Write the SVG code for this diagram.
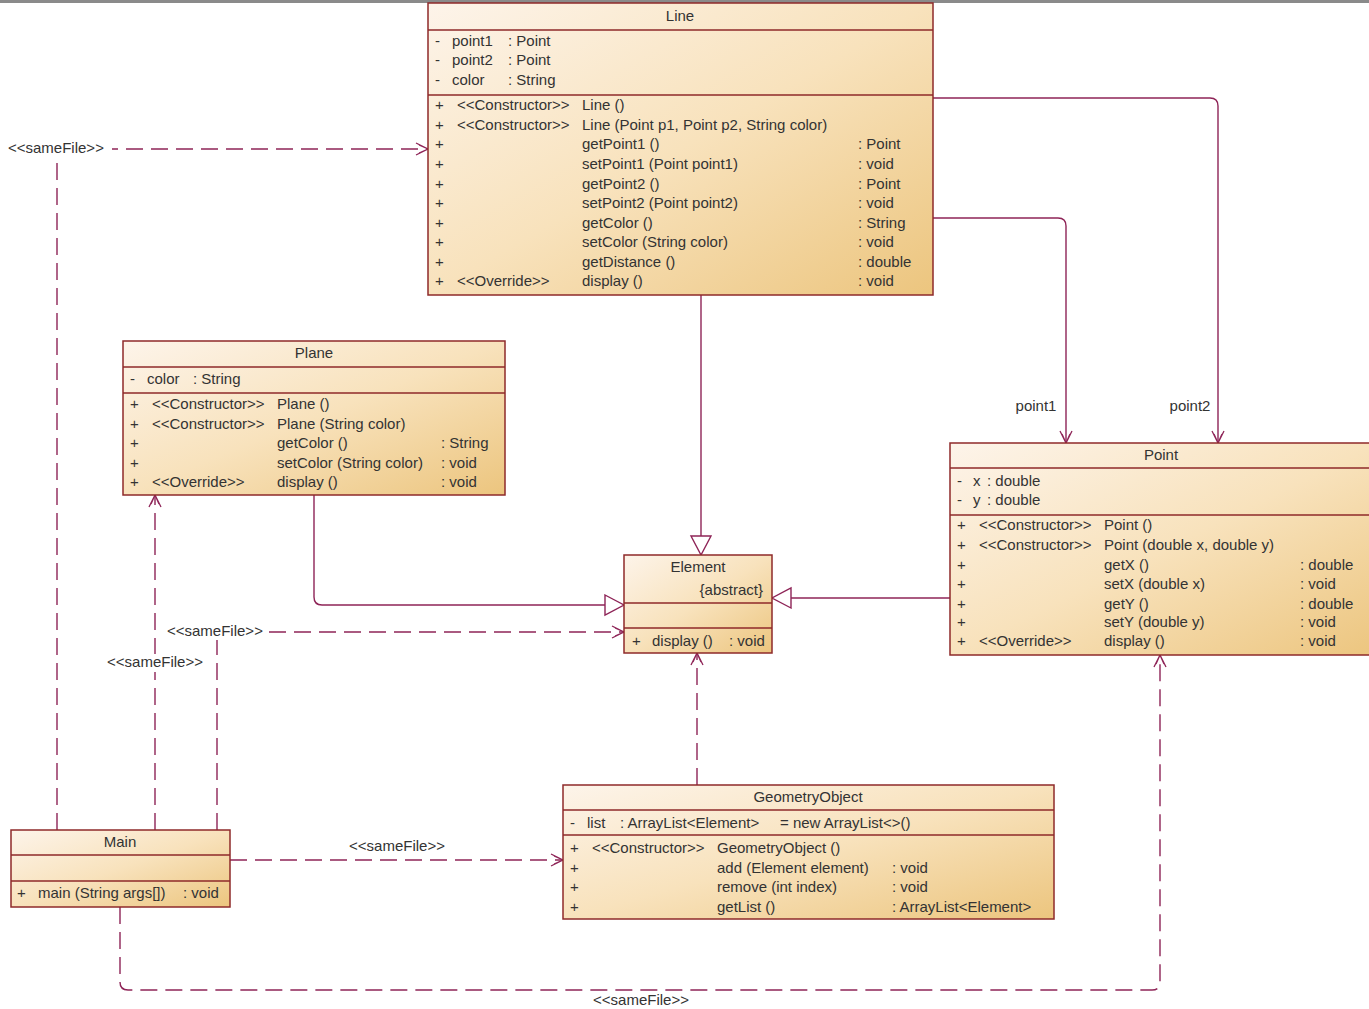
<svg xmlns="http://www.w3.org/2000/svg" width="1369" height="1009" viewBox="0 0 1369 1009">
<style>
  text { font-family: "Liberation Sans", Arial, sans-serif; font-size: 15px; fill: #333; }
  .c { text-anchor: middle; }
  .e { text-anchor: end; }
  .box { fill: url(#g); stroke: #8e2a2a; stroke-width: 1.5; }
  .sep { stroke: #8e2a2a; stroke-width: 1.3; fill: none; }
  .con { stroke: #8e2457; stroke-width: 1.4; fill: none; }
  .dash { stroke-dasharray: 17 8; }
  .lbl { fill: #fff; }
</style>
<defs>
  <linearGradient id="g" x1="0" y1="0" x2="1" y2="1">
    <stop offset="0" stop-color="#fdf4ea"/>
    <stop offset="0.5" stop-color="#f8e2bc"/>
    <stop offset="1" stop-color="#ecc57e"/>
  </linearGradient>
  <marker id="tri" markerUnits="userSpaceOnUse" markerWidth="22" markerHeight="24" refX="20" refY="11" orient="auto">
    <path d="M1,1 L20,11 L1,21 Z" fill="#fff" stroke="#8e2457" stroke-width="1.4"/>
  </marker>
  <marker id="open" markerUnits="userSpaceOnUse" markerWidth="16" markerHeight="16" refX="14" refY="8" orient="auto">
    <path d="M2,2 L14,8 L2,14 M5,4 L14,8 L5,12" fill="none" stroke="#8e2457" stroke-width="1.3"/>
  </marker>
</defs>
<rect x="0" y="0" width="1369" height="1009" fill="#fff"/>
<rect x="0" y="0" width="1369" height="3" fill="#8a8a8a"/>

<g id="connectors">
  <path class="con" d="M701,295 V555" marker-end="url(#tri)"/>
  <path class="con" d="M314,495 V597 Q314,605 322,605 H624" marker-end="url(#tri)"/>
  <path class="con" d="M950,598 H772" marker-end="url(#tri)"/>
  <path class="con" d="M933,218 H1058 Q1066,218 1066,226 V443" marker-end="url(#open)"/>
  <path class="con" d="M933,98 H1210 Q1218,98 1218,106 V443" marker-end="url(#open)"/>
  <path class="con dash" d="M57,830 V149 H428" marker-end="url(#open)"/>
  <path class="con dash" d="M155,830 V495" marker-end="url(#open)"/>
  <path class="con dash" d="M217,830 V632 H624" marker-end="url(#open)"/>
  <path class="con dash" d="M697,785 V653" marker-end="url(#open)"/>
  <path class="con dash" d="M230,860 H563" marker-end="url(#open)"/>
  <path class="con dash" d="M120,907 V982 Q120,990 128,990 H1152 Q1160,990 1160,982 V655" marker-end="url(#open)"/>
  <rect class="lbl" x="5" y="139" width="107" height="18"/>
  <text x="8" y="153">&lt;&lt;sameFile&gt;&gt;</text>
  <rect class="lbl" x="104" y="654" width="103" height="18"/>
  <text class="c" x="155" y="667">&lt;&lt;sameFile&gt;&gt;</text>
  <rect class="lbl" x="165" y="622" width="101" height="18"/>
  <text x="167" y="636">&lt;&lt;sameFile&gt;&gt;</text>
  <text class="c" x="397" y="851">&lt;&lt;sameFile&gt;&gt;</text>
  <text class="c" x="641" y="1005">&lt;&lt;sameFile&gt;&gt;</text>
  <text class="c" x="1036" y="411">point1</text>
  <text class="c" x="1190" y="411">point2</text>
</g>

<g id="Line">
  <rect class="box" x="428" y="3" width="505" height="292"/>
  <path class="sep" d="M428,30 H933 M428,95 H933"/>
  <text class="c" x="680" y="21">Line</text>
  <text x="435" y="46">-</text><text x="452" y="46">point1</text><text x="508" y="46">: Point</text>
  <text x="435" y="65">-</text><text x="452" y="65">point2</text><text x="508" y="65">: Point</text>
  <text x="435" y="85">-</text><text x="452" y="85">color</text><text x="508" y="85">: String</text>
  <text x="435" y="110">+</text><text x="457" y="110">&lt;&lt;Constructor&gt;&gt;</text><text x="582" y="110">Line ()</text>
  <text x="435" y="130">+</text><text x="457" y="130">&lt;&lt;Constructor&gt;&gt;</text><text x="582" y="130">Line (Point p1, Point p2, String color)</text>
  <text x="435" y="149">+</text><text x="582" y="149">getPoint1 ()</text><text x="858" y="149">: Point</text>
  <text x="435" y="169">+</text><text x="582" y="169">setPoint1 (Point point1)</text><text x="858" y="169">: void</text>
  <text x="435" y="189">+</text><text x="582" y="189">getPoint2 ()</text><text x="858" y="189">: Point</text>
  <text x="435" y="208">+</text><text x="582" y="208">setPoint2 (Point point2)</text><text x="858" y="208">: void</text>
  <text x="435" y="228">+</text><text x="582" y="228">getColor ()</text><text x="858" y="228">: String</text>
  <text x="435" y="247">+</text><text x="582" y="247">setColor (String color)</text><text x="858" y="247">: void</text>
  <text x="435" y="267">+</text><text x="582" y="267">getDistance ()</text><text x="858" y="267">: double</text>
  <text x="435" y="286">+</text><text x="457" y="286">&lt;&lt;Override&gt;&gt;</text><text x="582" y="286">display ()</text><text x="858" y="286">: void</text>
</g>

<g id="Plane">
  <rect class="box" x="123" y="341" width="382" height="154"/>
  <path class="sep" d="M123,367 H505 M123,393 H505"/>
  <text class="c" x="314" y="358">Plane</text>
  <text x="130" y="384">-</text><text x="147" y="384">color</text><text x="193" y="384">: String</text>
  <text x="130" y="409">+</text><text x="152" y="409">&lt;&lt;Constructor&gt;&gt;</text><text x="277" y="409">Plane ()</text>
  <text x="130" y="429">+</text><text x="152" y="429">&lt;&lt;Constructor&gt;&gt;</text><text x="277" y="429">Plane (String color)</text>
  <text x="130" y="448">+</text><text x="277" y="448">getColor ()</text><text x="441" y="448">: String</text>
  <text x="130" y="468">+</text><text x="277" y="468">setColor (String color)</text><text x="441" y="468">: void</text>
  <text x="130" y="487">+</text><text x="152" y="487">&lt;&lt;Override&gt;&gt;</text><text x="277" y="487">display ()</text><text x="441" y="487">: void</text>
</g>

<g id="Point">
  <rect class="box" x="950" y="443" width="430" height="212"/>
  <path class="sep" d="M950,468 H1369 M950,515 H1369"/>
  <text class="c" x="1161" y="460">Point</text>
  <text x="957" y="486">-</text><text x="973" y="486">x</text><text x="987" y="486">: double</text>
  <text x="957" y="505">-</text><text x="973" y="505">y</text><text x="987" y="505">: double</text>
  <text x="957" y="530">+</text><text x="979" y="530">&lt;&lt;Constructor&gt;&gt;</text><text x="1104" y="530">Point ()</text>
  <text x="957" y="550">+</text><text x="979" y="550">&lt;&lt;Constructor&gt;&gt;</text><text x="1104" y="550">Point (double x, double y)</text>
  <text x="957" y="570">+</text><text x="1104" y="570">getX ()</text><text x="1300" y="570">: double</text>
  <text x="957" y="589">+</text><text x="1104" y="589">setX (double x)</text><text x="1300" y="589">: void</text>
  <text x="957" y="609">+</text><text x="1104" y="609">getY ()</text><text x="1300" y="609">: double</text>
  <text x="957" y="627">+</text><text x="1104" y="627">setY (double y)</text><text x="1300" y="627">: void</text>
  <text x="957" y="646">+</text><text x="979" y="646">&lt;&lt;Override&gt;&gt;</text><text x="1104" y="646">display ()</text><text x="1300" y="646">: void</text>
</g>

<g id="Element">
  <rect class="box" x="624" y="555" width="148" height="98"/>
  <path class="sep" d="M624,603 H772 M624,628 H772"/>
  <text class="c" x="698" y="572">Element</text>
  <text class="e" x="763" y="595">{abstract}</text>
  <text x="632" y="646">+</text><text x="652" y="646">display ()</text><text x="729" y="646">: void</text>
</g>

<g id="GeometryObject">
  <rect class="box" x="563" y="785" width="491" height="134"/>
  <path class="sep" d="M563,810 H1054 M563,835 H1054"/>
  <text class="c" x="808" y="802">GeometryObject</text>
  <text x="570" y="828">-</text><text x="587" y="828">list</text><text x="620" y="828">: ArrayList&lt;Element&gt;</text><text x="780" y="828">= new ArrayList&lt;&gt;()</text>
  <text x="570" y="853">+</text><text x="592" y="853">&lt;&lt;Constructor&gt;&gt;</text><text x="717" y="853">GeometryObject ()</text>
  <text x="570" y="873">+</text><text x="717" y="873">add (Element element)</text><text x="892" y="873">: void</text>
  <text x="570" y="892">+</text><text x="717" y="892">remove (int index)</text><text x="892" y="892">: void</text>
  <text x="570" y="912">+</text><text x="717" y="912">getList ()</text><text x="892" y="912">: ArrayList&lt;Element&gt;</text>
</g>

<g id="Main">
  <rect class="box" x="11" y="830" width="219" height="77"/>
  <path class="sep" d="M11,855 H230 M11,881 H230"/>
  <text class="c" x="120" y="847">Main</text>
  <text x="17" y="898">+</text><text x="38" y="898">main (String args[])</text><text x="183" y="898">: void</text>
</g>
</svg>
